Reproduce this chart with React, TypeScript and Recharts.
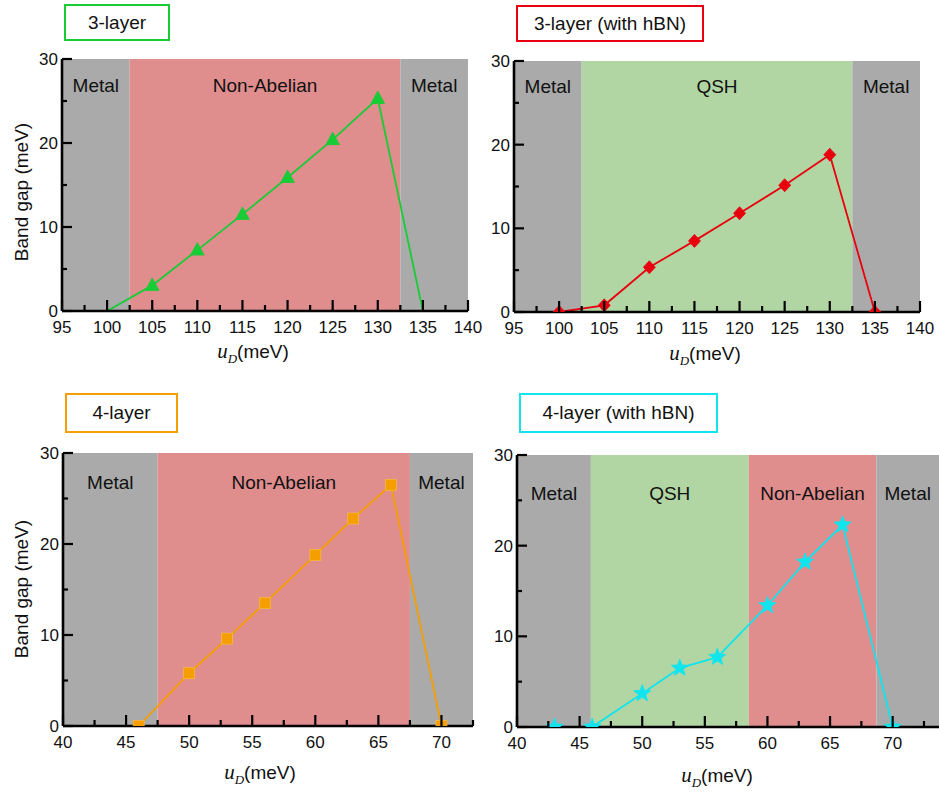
import React from 'react';
import { LineChart, Line, XAxis, YAxis, ReferenceArea } from 'recharts';

const FONT = '"Liberation Sans", Arial, Helvetica, sans-serif';
const SERIF = '"Liberation Serif", "Times New Roman", serif';

// ---------- data ----------
const tri3X = [100, 105, 110, 115, 120, 125, 130, 135];
const tri3Gap = [0, 3.05, 7.25, 11.5, 15.9, 20.4, 25.3, 0];

const tri3hX = [100, 105, 110, 115, 120, 125, 130, 135];
const tri3hGap = [0, 0.8, 5.35, 8.5, 11.8, 15.15, 18.8, 0];

const tet4X = [46, 50, 53, 56, 60, 63, 66, 70];
const tet4Gap = [0, 5.8, 9.6, 13.5, 18.8, 22.8, 26.5, 0];

const tet4hX = [43, 46, 50, 53, 56, 60, 63, 66, 70];
const tet4hGap = [0, 0, 3.7, 6.5, 7.7, 13.4, 18.2, 22.3, 0];

const xTicks3 = [95, 97.5, 100, 102.5, 105, 107.5, 110, 112.5, 115, 117.5, 120, 122.5, 125, 127.5, 130, 132.5, 135, 137.5, 140];
const xTicks4 = [40, 42.5, 45, 47.5, 50, 52.5, 55, 57.5, 60, 62.5, 65, 67.5, 70, 72.5];
const yTicks = [0, 5, 10, 15, 20, 25, 30];

const bounds3 = [95, 102.5, 132.5, 140];
const phases3 = ['Metal', 'Non-Abelian', 'Metal'];
const bounds3h = [95, 102.5, 132.5, 140];
const phases3h = ['Metal', 'QSH', 'Metal'];
const bounds4 = [40, 47.5, 67.5, 72.5];
const phases4 = ['Metal', 'Non-Abelian', 'Metal'];
const bounds4h = [40, 45.9, 58.5, 68.7, 73.7];
const phases4h = ['Metal', 'QSH', 'Non-Abelian', 'Metal'];

const titles = ['3-layer', '3-layer (with hBN)', '4-layer', '4-layer (with hBN)'];

// ---------- styles ----------
const PHASE_FILL: Record<string, string> = {
  Metal: '#aaaaaa',
  'Non-Abelian': '#e08d8e',
  QSH: '#b1d6a4',
};

const GREEN = '#17cc35';
const RED = '#e8000e';
const ORANGE = '#f59e00';
const CYAN = '#10e4ee';

const XTick = (props: any) => {
  const { x, y, payload } = props;
  const v = payload.value;
  const major = Math.abs(v % 5) < 1e-6;
  return (
    <g>
      <line x1={x} x2={x} y1={y} y2={y - (major ? 11 : 6)} stroke="#000" strokeWidth={2.2} />
      {major && (
        <text x={x} y={y + 22} textAnchor="middle" fontSize={17} fontFamily={FONT} fill="#111">
          {v}
        </text>
      )}
    </g>
  );
};

const YTick = (props: any) => {
  const { x, y, payload } = props;
  const v = payload.value;
  const major = Math.abs(v % 10) < 1e-6;
  return (
    <g>
      <line x1={x} x2={x + (major ? 10 : 5)} y1={y} y2={y} stroke="#000" strokeWidth={2.2} />
      {major && (
        <text x={x - 4} y={y + 6} textAnchor="end" fontSize={17} fontFamily={FONT} fill="#111">
          {v}
        </text>
      )}
    </g>
  );
};

const starPath = (cx: number, cy: number, ro: number, ri: number) => {
  const pts: string[] = [];
  for (let i = 0; i < 10; i++) {
    const r = i % 2 === 0 ? ro : ri;
    const a = -Math.PI / 2 + (i * Math.PI) / 5;
    pts.push(`${cx + r * Math.cos(a)},${cy + r * Math.sin(a)}`);
  }
  return 'M' + pts.join('L') + 'Z';
};

const makeDot = (shape: string, color: string, hideZero: boolean) => (props: any) => {
  const { cx, cy, payload, index } = props;
  if (cx == null || cy == null || (hideZero && payload.gap === 0)) return <g key={`d${index}`} />;
  if (shape === 'triangle') {
    return (
      <path key={`d${index}`} d={`M${cx},${cy - 7.5}L${cx + 6.8},${cy + 5}L${cx - 6.8},${cy + 5}Z`} fill={color} stroke={color} strokeWidth={0.8} />
    );
  }
  if (shape === 'diamond') {
    return (
      <path key={`d${index}`} d={`M${cx},${cy - 6.5}L${cx + 6},${cy}L${cx},${cy + 6.5}L${cx - 6},${cy}Z`} fill={color} stroke={color} strokeWidth={0.8} />
    );
  }
  if (shape === 'square') {
    return <rect key={`d${index}`} x={cx - 5.5} y={cy - 5.5} width={11} height={11} fill={color} stroke="#f8b840" strokeWidth={0.8} />;
  }
  return <path key={`d${index}`} d={starPath(cx, cy, 9, 3.8)} fill={color} stroke={color} strokeWidth={0.8} />;
};

type Panel = {
  xs: number[];
  gaps: number[];
  bounds: number[];
  phases: string[];
  domain: [number, number];
  ticks: number[];
  color: string;
  shape: string;
  hideZero: boolean;
  left: number;
  top: number;
  width: number;
  height: number;
  margin: { top: number; right: number; bottom: number; left: number };
  yWidth: number;
  labelDy: number;
};

const panels: Panel[] = [
  {
    xs: tri3X, gaps: tri3Gap, bounds: bounds3, phases: phases3, domain: [95, 140], ticks: xTicks3,
    color: GREEN, shape: 'triangle', hideZero: true,
    left: 0, top: 0, width: 488, height: 345, margin: { top: 59, right: 20, bottom: 4, left: 0 }, yWidth: 62, labelDy: 26,
  },
  {
    xs: tri3hX, gaps: tri3hGap, bounds: bounds3h, phases: phases3h, domain: [95, 140], ticks: xTicks3,
    color: RED, shape: 'diamond', hideZero: false,
    left: 470, top: 0, width: 469, height: 346, margin: { top: 61, right: 19, bottom: 4, left: 0 }, yWidth: 44, labelDy: 25,
  },
  {
    xs: tet4X, gaps: tet4Gap, bounds: bounds4, phases: phases4, domain: [40, 72.5], ticks: xTicks4,
    color: ORANGE, shape: 'square', hideZero: false,
    left: 0, top: 400, width: 476, height: 360, margin: { top: 53, right: 3, bottom: 4, left: 0 }, yWidth: 63, labelDy: 29,
  },
  {
    xs: tet4hX, gaps: tet4hGap, bounds: bounds4h, phases: phases4h, domain: [40, 73.7], ticks: xTicks4,
    color: CYAN, shape: 'star', hideZero: false,
    left: 470, top: 400, width: 469, height: 361, margin: { top: 55, right: 0, bottom: 4, left: 0 }, yWidth: 47, labelDy: 38,
  },
];

const boxes = [
  { left: 64, top: 4, width: 106, height: 37, color: GREEN },
  { left: 516, top: 5, width: 188, height: 37, color: RED },
  { left: 65, top: 393, width: 113, height: 40, color: ORANGE },
  { left: 519, top: 393, width: 199, height: 40, color: CYAN },
];

const xTitlePos = [
  { x: 253, y: 352 },
  { x: 705, y: 354 },
  { x: 260, y: 773 },
  { x: 717, y: 776 },
];

const yTitlePos = [
  { x: 22, y: 192 },
  { x: 22, y: 589 },
];

const RegionLabel = (text: string, dy: number) => (p: any) => {
  const vb = p.viewBox || {};
  return (
    <text
      x={vb.x + vb.width / 2}
      y={vb.y + dy}
      textAnchor="middle"
      dominantBaseline="central"
      fontSize={19}
      fontFamily={FONT}
      fill="#111"
    >
      {text}
    </text>
  );
};

const PanelChart = ({ p }: { p: Panel }) => {
  const data = p.xs.map((u, i) => ({ u, gap: p.gaps[i] }));
  return (
    <div style={{ position: 'absolute', left: p.left, top: p.top, width: p.width, height: p.height }}>
      <LineChart width={p.width} height={p.height} data={data} margin={p.margin}>
        {p.phases.map((ph, i) => (
          <ReferenceArea
            key={`r${i}`}
            x1={p.bounds[i]}
            x2={p.bounds[i + 1]}
            fill={PHASE_FILL[ph]}
            fillOpacity={1}
            stroke="none"
            ifOverflow="visible"
            label={RegionLabel(ph, p.labelDy)}
          />
        ))}
        <XAxis
          type="number"
          dataKey="u"
          domain={p.domain}
          ticks={p.ticks}
          interval={0}
          allowDataOverflow
          tickSize={0}
          tickMargin={0}
          tickLine={false}
          axisLine={{ stroke: '#000', strokeWidth: 2.6 }}
          height={30}
          tick={XTick}
        />
        <YAxis
          type="number"
          domain={[0, 30]}
          ticks={yTicks}
          interval={0}
          allowDataOverflow
          tickSize={0}
          tickMargin={0}
          tickLine={false}
          axisLine={{ stroke: '#000', strokeWidth: 2.6 }}
          width={p.yWidth}
          tick={YTick}
        />
        <Line
          type="linear"
          dataKey="gap"
          stroke={p.color}
          strokeWidth={1.8}
          dot={makeDot(p.shape, p.color, p.hideZero)}
          activeDot={false}
          isAnimationActive={false}
        />
      </LineChart>
    </div>
  );
};

export default function App() {
  return (
    <div style={{ position: 'absolute', left: 0, top: 0, width: 939, height: 796, background: '#fff', fontFamily: FONT, overflow: 'hidden' }}>
      {panels.map((p, i) => (
        <PanelChart key={i} p={p} />
      ))}
      {boxes.map((b, i) => (
        <div
          key={`b${i}`}
          style={{
            position: 'absolute',
            left: b.left,
            top: b.top,
            width: b.width,
            height: b.height,
            boxSizing: 'border-box',
            border: `2.5px solid ${b.color}`,
            display: 'flex',
            alignItems: 'center',
            justifyContent: 'center',
            fontSize: 19,
            color: '#111',
            whiteSpace: 'nowrap',
          }}
        >
          {titles[i]}
        </div>
      ))}
      {xTitlePos.map((t, i) => (
        <div
          key={`xt${i}`}
          style={{
            position: 'absolute',
            left: t.x,
            top: t.y,
            transform: 'translate(-50%, -50%)',
            fontSize: 19,
            color: '#111',
            whiteSpace: 'nowrap',
            lineHeight: '22px',
          }}
        >
          <span style={{ fontFamily: SERIF, fontStyle: 'italic', fontSize: 21 }}>u</span>
          <span style={{ fontFamily: SERIF, fontStyle: 'italic', fontSize: 13, position: 'relative', top: 5 }}>D</span>
          <span>(meV)</span>
        </div>
      ))}
      {yTitlePos.map((t, i) => (
        <div
          key={`yt${i}`}
          style={{
            position: 'absolute',
            left: t.x,
            top: t.y,
            transform: 'translate(-50%, -50%) rotate(-90deg)',
            fontSize: 19,
            color: '#111',
            whiteSpace: 'nowrap',
          }}
        >
          Band gap (meV)
        </div>
      ))}
    </div>
  );
}
